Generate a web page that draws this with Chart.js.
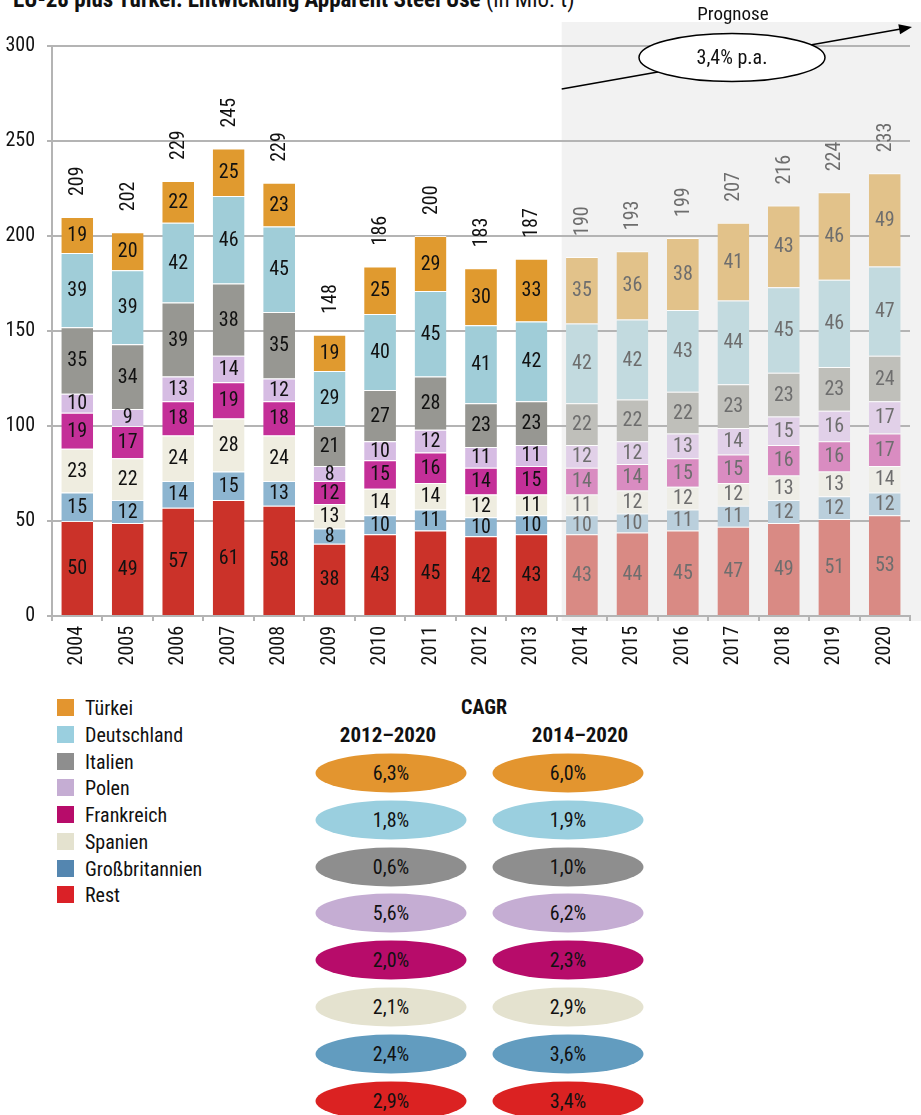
<!DOCTYPE html>
<html>
<head>
<meta charset="utf-8">
<script src="https://cdn.jsdelivr.net/npm/chart.js@4.4.1/dist/chart.umd.min.js"></script>
<style>
  body { margin: 0; background: #fff; width: 921px; height: 1115px; overflow: hidden; position: relative;
         font-family: "Roboto Condensed", Roboto, sans-serif; color: #111; }
  #wrap { position: absolute; left: 0; top: 0; width: 921px; height: 690px; }
  #title { position: absolute; left: 13px; top: -12.5px; font-size: 23px; line-height: 23px; font-weight: bold; white-space: nowrap; }
  #title span { font-weight: normal; }
  .leg { position: absolute; left: 57px; height: 18px; font-size: 20px; line-height: 18px; white-space: nowrap; }
  .leg i { display: inline-block; width: 17px; height: 17px; vertical-align: top; margin-right: 11px; }
  .hd { position: absolute; font-weight: bold; text-align: center; white-space: nowrap; transform: translate(-50%, -50%); }
  .ell { position: absolute; width: 151px; height: 39px; border-radius: 50%; text-align: center;
         line-height: 39px; font-size: 20px; transform: translate(-50%, -50%); }
</style>
</head>
<body>
<div id="title">EU-28 plus Türkei: Entwicklung Apparent Steel Use <span>(in Mio. t)</span></div>
<div id="wrap"><canvas id="chart"></canvas></div>
<div id="legend"></div>
<div id="cagr"></div>
<script>
const years = ["2004", "2005", "2006", "2007", "2008", "2009", "2010", "2011", "2012",
               "2013", "2014", "2015", "2016", "2017", "2018", "2019", "2020"];
const rest    = [50, 49, 57, 61, 58, 38, 43, 45, 42, 43, 43, 44, 45, 47, 49, 51, 53];
const uk      = [15, 12, 14, 15, 13,  8, 10, 11, 10, 10, 10, 10, 11, 11, 12, 12, 12];
const spain   = [23, 22, 24, 28, 24, 13, 14, 14, 12, 11, 11, 12, 12, 12, 13, 13, 14];
const france  = [19, 17, 18, 19, 18, 12, 15, 16, 14, 15, 14, 14, 15, 15, 16, 16, 17];
const poland  = [10,  9, 13, 14, 12,  8, 10, 12, 11, 11, 12, 12, 13, 14, 15, 16, 17];
const italy   = [35, 34, 39, 38, 35, 21, 27, 28, 23, 23, 22, 22, 22, 23, 23, 23, 24];
const germany = [39, 39, 42, 46, 45, 29, 40, 45, 41, 42, 42, 42, 43, 44, 45, 46, 47];
const turkey  = [19, 20, 22, 25, 23, 19, 25, 29, 30, 33, 35, 36, 38, 41, 43, 46, 49];
const totals  = [209, 202, 229, 245, 229, 148, 186, 200, 183, 187, 190, 193, 199, 207, 216, 224, 233];
const yTicks = [0, 50, 100, 150, 200, 250, 300];
const forecastFrom = "2014";
const forecastLabel = "Prognose";
const growthLabel = "3,4% p.a.";

// legend / CAGR table, top to bottom
const countries = ["Türkei", "Deutschland", "Italien", "Polen", "Frankreich", "Spanien", "Großbritannien", "Rest"];
const cagrPeriods = ["2012–2020", "2014–2020"];
const cagr2012 = ["6,3%", "1,8%", "0,6%", "5,6%", "2,0%", "2,1%", "2,4%", "2,9%"];
const cagr2014 = ["6,0%", "1,9%", "1,0%", "6,2%", "2,3%", "2,9%", "3,6%", "3,4%"];

const FONT = "'Roboto Condensed', Roboto, sans-serif";
const fi = years.indexOf(forecastFrom);

// bar colours: actual, forecast, legend key, CAGR ellipse
const styles = {
  "Rest":           { bar: "#cb3229", fc: "#d98a84", key: "#da2127", ell: "#db2222" },
  "Großbritannien": { bar: "#8db5d0", fc: "#bacfdc", key: "#5486b0", ell: "#629cbf" },
  "Spanien":        { bar: "#efede0", fc: "#eeede6", key: "#e4e2cf", ell: "#e4e2cf" },
  "Frankreich":     { bar: "#c42f98", fc: "#d98cc1", key: "#b70c6a", ell: "#b70c6a" },
  "Polen":          { bar: "#d6bce3", fc: "#e1d0e8", key: "#c5add3", ell: "#c5add3" },
  "Italien":        { bar: "#979792", fc: "#bfbfba", key: "#8e8e8e", ell: "#8e8e8e" },
  "Deutschland":    { bar: "#a0cdd8", fc: "#c2dadf", key: "#9acfdf", ell: "#9acfdf" },
  "Türkei":         { bar: "#e09a2f", fc: "#e2c28a", key: "#e3952f", ell: "#e3952f" }
};

const stack = [
  ["Rest", rest], ["Großbritannien", uk], ["Spanien", spain], ["Frankreich", france],
  ["Polen", poland], ["Italien", italy], ["Deutschland", germany], ["Türkei", turkey]
];

const datasets = stack.map(([name, values]) => ({
  label: name,
  data: values,
  backgroundColor: years.map((y, i) => i >= fi ? styles[name].fc : styles[name].bar),
  borderColor: "rgba(255,255,255,0.85)",
  borderWidth: { top: 1, left: 0, right: 0, bottom: 0 },
  borderSkipped: false,
  barPercentage: 0.63,
  categoryPercentage: 1
}));

const shade = {
  id: "shade",
  beforeDraw(chart) {
    const { ctx, scales: { x, y } } = chart;
    const left = (x.getPixelForValue(fi - 1) + x.getPixelForValue(fi)) / 2 + 5;
    ctx.save();
    ctx.fillStyle = "#f2f2f2";
    ctx.fillRect(left, 22, chart.width - left, y.bottom + 5 - 22);
    ctx.restore();
  },
  afterDraw(chart) {
    const { ctx, scales: { x, y } } = chart;
    const left = (x.getPixelForValue(fi - 1) + x.getPixelForValue(fi)) / 2 + 5;
    const x0 = left, y0 = y.top + 43, x1 = x.right + 2, y1 = y.top - 19;
    const ang = Math.atan2(y1 - y0, x1 - x0);
    ctx.save();
    ctx.strokeStyle = "#000";
    ctx.lineWidth = 1.5;
    ctx.beginPath();
    ctx.moveTo(x0, y0);
    ctx.lineTo(x1 - 10 * Math.cos(ang), y1 - 10 * Math.sin(ang));
    ctx.stroke();
    ctx.fillStyle = "#000";
    ctx.beginPath();
    ctx.moveTo(x1, y1);
    ctx.lineTo(x1 - 13 * Math.cos(ang) + 5 * Math.sin(ang), y1 - 13 * Math.sin(ang) - 5 * Math.cos(ang));
    ctx.lineTo(x1 - 13 * Math.cos(ang) - 5 * Math.sin(ang), y1 - 13 * Math.sin(ang) + 5 * Math.cos(ang));
    ctx.closePath();
    ctx.fill();
    const cx = 732, cy = y.top + 11.5;
    ctx.beginPath();
    ctx.ellipse(cx, cy, 93, 24, 0, 0, Math.PI * 2);
    ctx.fillStyle = "#fff";
    ctx.fill();
    ctx.stroke();
    ctx.fillStyle = "#111";
    ctx.font = "20px " + FONT;
    ctx.textAlign = "center";
    ctx.textBaseline = "middle";
    ctx.fillText(growthLabel, cx, cy + 1);
    ctx.font = "19px " + FONT;
    ctx.fillText(forecastLabel, cx + 1, 15);
    ctx.restore();
  }
};

const barLabels = {
  id: "barLabels",
  afterDatasetsDraw(chart) {
    const ctx = chart.ctx;
    ctx.save();
    ctx.font = "20px " + FONT;
    ctx.textAlign = "center";
    ctx.textBaseline = "middle";
    chart.data.datasets.forEach((ds, d) => {
      chart.getDatasetMeta(d).data.forEach((bar, i) => {
        ctx.fillStyle = i >= fi ? "#6e6e6e" : "#111";
        ctx.fillText(ds.data[i], bar.x, (bar.y + bar.base) / 2 + 1);
      });
    });
    const topBars = chart.getDatasetMeta(chart.data.datasets.length - 1).data;
    topBars.forEach((bar, i) => {
      ctx.save();
      ctx.translate(bar.x + 1, bar.y - 21);
      ctx.rotate(-Math.PI / 2);
      ctx.textAlign = "left";
      ctx.fillStyle = i >= fi ? "#6e6e6e" : "#111";
      ctx.fillText(totals[i], 0, 0);
      ctx.restore();
    });
    ctx.restore();
  }
};

Chart.defaults.font.family = FONT;

new Chart(document.getElementById("chart"), {
  type: "bar",
  data: { labels: years, datasets: datasets },
  options: {
    responsive: true,
    maintainAspectRatio: false,
    animation: false,
    layout: { padding: { top: 46, right: 11, left: 0, bottom: 0 } },
    plugins: { legend: { display: false }, tooltip: { enabled: false } },
    scales: {
      x: {
        stacked: true,
        afterFit: (s) => { s.height = 74; },
        grid: { display: true, drawOnChartArea: false, drawTicks: true, tickLength: 5, color: "#b4b4b4", lineWidth: 2, offset: true },
        border: { display: true, color: "#b4b4b4", width: 2 },
        ticks: { color: "#111", font: { size: 20 }, minRotation: 90, maxRotation: 90, autoSkip: false, padding: 5 }
      },
      y: {
        stacked: true,
        min: yTicks[0],
        max: yTicks[yTicks.length - 1],
        afterFit: (s) => { s.width = 52; },
        afterBuildTicks: (s) => { s.ticks = yTicks.map(v => ({ value: v })); },
        grid: { color: "#b4b4b4", lineWidth: 2, drawTicks: true, tickLength: 5 },
        border: { display: true, color: "#b4b4b4", width: 2 },
        ticks: { color: "#111", font: { size: 20 }, padding: 12 }
      }
    }
  },
  plugins: [shade, barLabels]
});

// legend
const legend = document.getElementById("legend");
countries.forEach((name, i) => {
  const el = document.createElement("div");
  el.className = "leg";
  el.style.top = (708 + i * 26.75 - 9) + "px";
  el.innerHTML = '<i style="background:' + styles[name].key + '"></i>' + name;
  legend.appendChild(el);
});

// CAGR table
const cagr = document.getElementById("cagr");
function addHead(text, x, y, size) {
  const el = document.createElement("div");
  el.className = "hd";
  el.style.left = x + "px";
  el.style.top = y + "px";
  el.style.fontSize = size + "px";
  el.textContent = text;
  cagr.appendChild(el);
}
addHead("CAGR", 484, 707, 20);
addHead(cagrPeriods[0], 388, 735, 21);
addHead(cagrPeriods[1], 580, 735, 21);
[cagr2012, cagr2014].forEach((col, c) => {
  col.forEach((v, i) => {
    const el = document.createElement("div");
    el.className = "ell";
    el.style.left = (c === 0 ? 391 : 568) + "px";
    el.style.top = (773 + i * 46.8) + "px";
    el.style.background = styles[countries[i]].ell;
    el.textContent = v;
    cagr.appendChild(el);
  });
});
</script>
</body>
</html>
